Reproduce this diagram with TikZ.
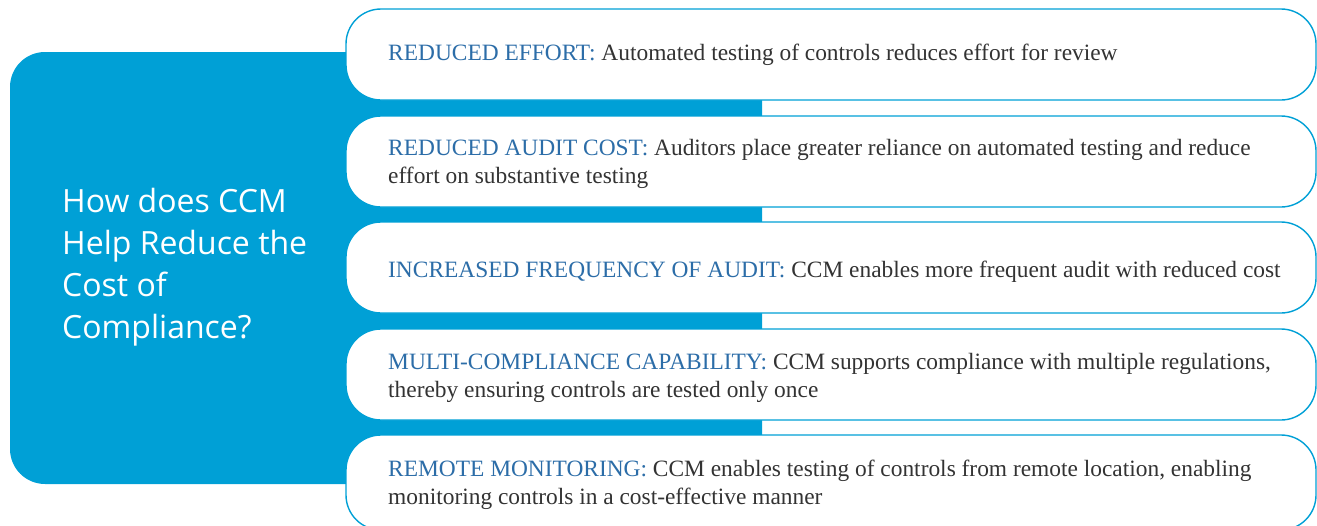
\documentclass[tikz,border=0pt]{standalone}
\usepackage{fontspec}
\setmainfont{Liberation Serif}
\newfontfamily\titlefont{Open Sans}
\definecolor{ccmblue}{HTML}{00A0D6}
\definecolor{labelblue}{HTML}{2C6DA8}
\definecolor{bodygrey}{HTML}{333333}
\begin{document}
\begin{tikzpicture}[x=1pt,y=-1pt,
  panel/.style={fill=ccmblue,draw=none,rounded corners=35pt},
  benefit/.style={fill=white,draw=ccmblue,line width=1.4pt,rounded corners=35pt},
  benefittext/.style={anchor=west,align=left,inner sep=0pt,text=bodygrey,
    font=\fontsize{23.4}{28.5}\selectfont},
  titletext/.style={anchor=north west,align=left,inner sep=0pt,text=white,
    font=\titlefont\fontsize{32}{42}\selectfont}]
\useasboundingbox (0,0) rectangle (1317,525);
\clip (0,0) rectangle (1317,525);
% blue question panel behind the benefit boxes
\path[panel] (10,52) rectangle (762,484);
\node[titletext] (title) at (62,188)
  {How does CCM\\Help Reduce the\\Cost of\\Compliance?};
% benefit boxes
\path[benefit] (346,9)   rectangle (1316,100);
\path[benefit] (346,116) rectangle (1316,207);
\path[benefit] (346,222) rectangle (1316,313);
\path[benefit] (346,329) rectangle (1316,420);
\path[benefit] (346,435) rectangle (1316,530);
\node[benefittext] (b1) at (388,55)
  {\textcolor{labelblue}{REDUCED EFFORT:} Automated testing of controls reduces effort for review};
\node[benefittext] (b2) at (388,164)
  {\textcolor{labelblue}{REDUCED AUDIT COST:} Auditors place greater reliance on automated testing and reduce\\effort on substantive testing};
\node[benefittext] (b3) at (388,272)
  {\textcolor{labelblue}{INCREASED FREQUENCY OF AUDIT:} CCM enables more frequent audit with reduced cost};
\node[benefittext] (b4) at (388,378)
  {\textcolor{labelblue}{MULTI-COMPLIANCE CAPABILITY:} CCM supports compliance with multiple regulations,\\thereby ensuring controls are tested only once};
\node[benefittext] (b5) at (388,485)
  {\textcolor{labelblue}{REMOTE MONITORING:} CCM enables testing of controls from remote location, enabling\\monitoring controls in a cost-effective manner};
\end{tikzpicture}
\end{document}
